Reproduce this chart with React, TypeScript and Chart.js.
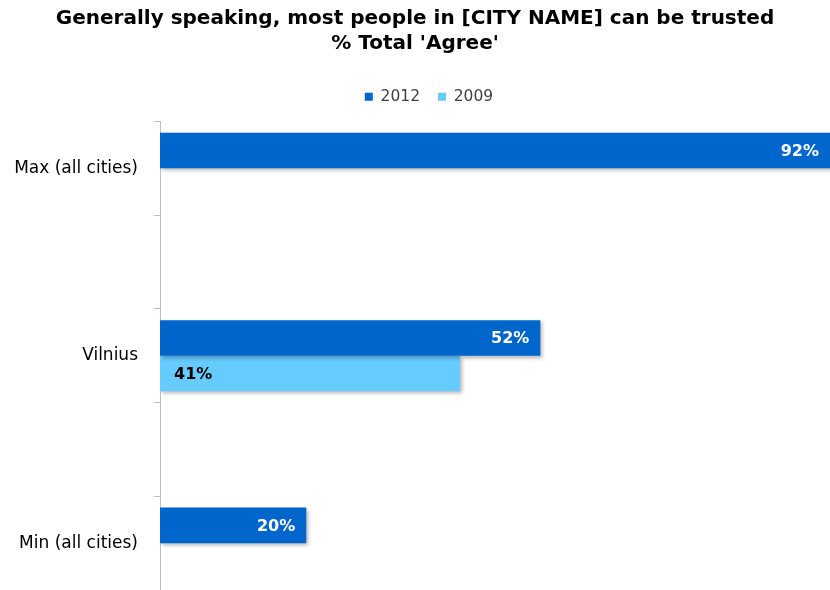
import React, { useEffect, useRef } from "react";
import { Chart, registerables } from "chart.js";

Chart.register(...registerables);

const categories = ["Max (all cities)", "", "Vilnius", "", "Min (all cities)"];
const values2012: (number | null)[] = [92, null, 52, null, 20];
const values2009: (number | null)[] = [null, null, 41, null, null];
const seriesLabels = ["2012", "2009"];
const titleLines = ["Generally speaking, most people in [CITY NAME] can be trusted", "% Total 'Agree'"];

const shadowPlugin = {
  id: "barShadow",
  beforeDatasetDraw(chart: any) {
    const ctx = chart.ctx;
    ctx.save();
    ctx.shadowColor = "rgba(0,0,0,0.3)";
    ctx.shadowBlur = 4;
    ctx.shadowOffsetX = 2;
    ctx.shadowOffsetY = 2;
  },
  afterDatasetDraw(chart: any) {
    chart.ctx.restore();
  },
};

const legendShiftPlugin = {
  id: "legendShift",
  afterLayout(chart: any) {
    if (chart.legend) {
      chart.legend.left += 28;
    }
  },
};

const labelPlugin = {
  id: "barLabels",
  afterDatasetsDraw(chart: any) {
    const ctx = chart.ctx;
    ctx.save();
    ctx.font = "bold 16px 'DejaVu Sans'";
    ctx.textBaseline = "middle";
    chart.data.datasets.forEach((ds: any, di: number) => {
      const meta = chart.getDatasetMeta(di);
      meta.data.forEach((bar: any, i: number) => {
        const v = ds.data[i];
        if (v === null || v === undefined) return;
        const text = v + "%";
        if (di === 0) {
          ctx.fillStyle = "#ffffff";
          ctx.textAlign = "right";
          ctx.fillText(text, Math.min(bar.x, chart.chartArea.right) - 11, bar.y + 1);
        } else {
          ctx.fillStyle = "#000000";
          ctx.textAlign = "left";
          ctx.fillText(text, bar.base + 14, bar.y + 1);
        }
      });
    });
    ctx.restore();
  },
};

export default function App() {
  const ref = useRef<HTMLCanvasElement>(null);
  useEffect(() => {
    const chart = new Chart(ref.current!, {
      type: "bar",
      data: {
        labels: categories,
        datasets: [
          { label: seriesLabels[0], data: values2012, backgroundColor: "#0066CC", categoryPercentage: 0.76, barPercentage: 1 },
          { label: seriesLabels[1], data: values2009, backgroundColor: "#66CCFF", categoryPercentage: 0.76, barPercentage: 1 },
        ],
      },
      options: {
        indexAxis: "y",
        animation: false,
        responsive: false,
        layout: { padding: { left: 0, right: 0, top: 6, bottom: 0 } },
        plugins: {
          title: {
            display: true,
            text: titleLines,
            color: "#000",
            font: { family: "'DejaVu Sans'", weight: "bold", size: 20, lineHeight: 1.25 },
            padding: { top: 0, bottom: 15 },
          },
          subtitle: {
            display: true,
            text: "",
            weight: 500,
            padding: 0,
            font: { size: 7, lineHeight: 1 },
          },
          legend: {
            display: true,
            position: "top",
            labels: {
              boxWidth: 8,
              boxHeight: 8,
              color: "#404040",
              font: { family: "'DejaVu Sans'", size: 15.5 },
              padding: 18,
            },
          },
          tooltip: { enabled: false },
        },
        scales: {
          x: { display: false, min: 0, max: 91.6 },
          y: {
            afterFit: (s: any) => { s.width = 160; s.paddingTop = 0; s.paddingBottom = 0; },
            border: { display: true, color: "#bfbfbf", width: 1 },
            grid: { offset: true, drawOnChartArea: false, drawTicks: true, tickLength: 6, color: "#bfbfbf" },
            ticks: { color: "#000", font: { family: "'DejaVu Sans'", size: 17 }, padding: 16 },
          },
        },
      },
      plugins: [shadowPlugin, labelPlugin, legendShiftPlugin],
    } as any);
    return () => chart.destroy();
  }, []);
  return (
    <div style={{ position: "fixed", left: 0, top: 0, width: 830, height: 590, background: "#fff" }}>
      <canvas ref={ref} width={830} height={590} />
    </div>
  );
}
